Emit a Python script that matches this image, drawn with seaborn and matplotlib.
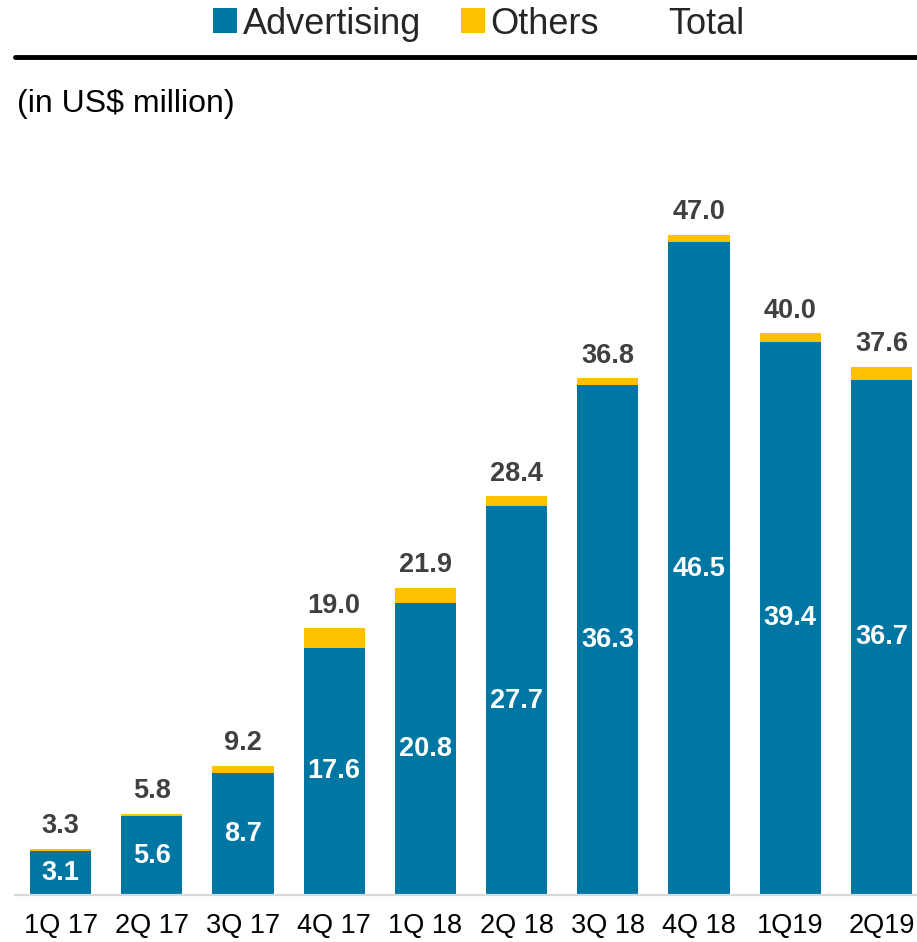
import matplotlib
matplotlib.use("Agg")
import matplotlib.pyplot as plt
from matplotlib.patches import Patch
from matplotlib.lines import Line2D
import pandas as pd
import seaborn as sns

QUARTERS = ["1Q 17", "2Q 17", "3Q 17", "4Q 17", "1Q 18", "2Q 18", "3Q 18", "4Q 18", "1Q19", "2Q19"]
ADVERTISING = [3.1, 5.6, 8.7, 17.6, 20.8, 27.7, 36.3, 46.5, 39.4, 36.7]
TOTAL = [3.3, 5.8, 9.2, 19.0, 21.9, 28.4, 36.8, 47.0, 40.0, 37.6]

ADV_COLOR = "#0076A3"
OTH_COLOR = "#FFC000"
LABEL_COLOR = "#404040"

sns.set_theme(style="white")
plt.rcParams["font.family"] = ["Liberation Sans", "DejaVu Sans"]

df = pd.DataFrame({"quarter": QUARTERS, "advertising": ADVERTISING, "total": TOTAL})

fig = plt.figure(figsize=(9.17, 9.42), dpi=100)
ax = fig.add_axes([15 / 917, 47 / 942, 902 / 917, 702 / 942])

# stacked: total in gold, advertising over it
sns.barplot(data=df, x="quarter", y="total", color=OTH_COLOR, width=0.67,
            saturation=1, ax=ax, order=QUARTERS, linewidth=0)
sns.barplot(data=df, x="quarter", y="advertising", color=ADV_COLOR, width=0.67,
            saturation=1, ax=ax, order=QUARTERS, linewidth=0)

ax.set_xlim(-0.5, 9.39)
ax.set_ylim(0, 50)
ax.set_xlabel("")
ax.set_ylabel("")
ax.set_yticks([])
for spine in ["top", "right", "left"]:
    ax.spines[spine].set_visible(False)
ax.spines["bottom"].set_color("#D9D9D9")
ax.spines["bottom"].set_linewidth(1.6)
ax.tick_params(axis="x", length=0, labelsize=19.5, colors="black", pad=13)

for i, (adv, tot) in enumerate(zip(ADVERTISING, TOTAL)):
    ax.annotate(f"{tot:.1f}", xy=(i, tot), xytext=(0, 7), textcoords="offset points",
                ha="center", va="bottom", fontsize=19.5, fontweight="bold", color=LABEL_COLOR)
    ax.text(i, adv / 2, f"{adv:.1f}", ha="center", va="center",
            fontsize=19.5, fontweight="bold", color="white")

handles = [
    Patch(facecolor=ADV_COLOR, edgecolor="none"),
    Patch(facecolor=OTH_COLOR, edgecolor="none"),
    Patch(facecolor="none", edgecolor="none"),
]
fig.legend(handles, ["Advertising", "Others", "Total"], loc="center",
           bbox_to_anchor=(0.522, 1 - 24 / 942), ncol=3, frameon=False, fontsize=26,
           handlelength=0.68, handleheight=0.68, handletextpad=0.15, columnspacing=1.1)

fig.add_artist(Line2D([15 / 917, 1.0], [1 - 57 / 942, 1 - 57 / 942],
                      transform=fig.transFigure, color="black", linewidth=3.5))
fig.text(17 / 917, 1 - 104 / 942, "(in US$ million)", ha="left", va="center",
         fontsize=23, color="black")

fig.savefig("out.png", dpi=100)
